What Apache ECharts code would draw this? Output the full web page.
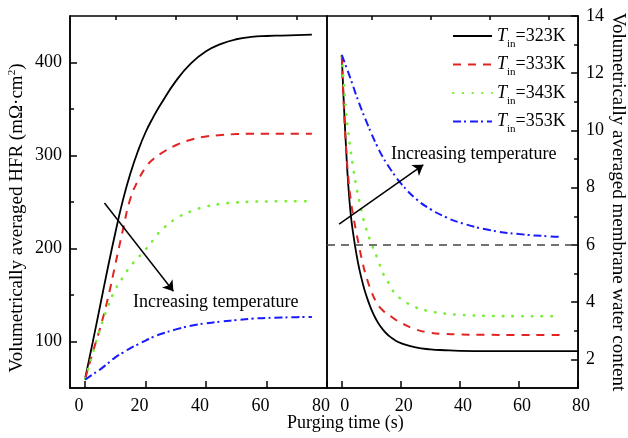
<!DOCTYPE html>
<html>
<head>
<meta charset="utf-8">
<script src="https://cdn.jsdelivr.net/npm/echarts@6/dist/echarts.min.js"></script>
<style>
  html, body { margin: 0; padding: 0; background: #fff; }
  #main { width: 628px; height: 438px; }
</style>
</head>
<body>
<div id="main"></div>
<script>
// inlet temperatures (K)
var temps = [323, 333, 343, 353];

// left panel: volumetrically averaged HFR (mOhm cm2) vs purging time (s)
var tLeft   = [0, 2.5, 5, 7.5, 10, 12.5, 15, 17.5, 20, 22.5, 25, 30, 35, 40, 45, 50, 55, 60, 65, 70, 75];
var hfr323  = [60, 99, 139, 179, 217, 252, 281, 305, 325, 341, 355, 380, 399, 412, 420, 425, 427.5, 428.5, 429, 429.5, 430];
var hfr333  = [60, 88, 115, 146, 183, 220, 254, 273, 287, 296, 302, 311, 317, 320.5, 322, 323, 323.5, 323.5, 323.5, 323.5, 323.5];
var hfr343  = [60, 87, 114, 137, 156, 169, 181, 190, 199, 209, 219, 232, 240, 245, 248, 249.5, 250.3, 250.6, 250.8, 250.8, 250.8];
var hfr353  = [59, 64.5, 70, 76.5, 83, 88, 93, 97, 101, 105, 108, 113, 117, 119.5, 121.5, 123, 124.5, 125.3, 125.8, 126.2, 126.3];

// right panel: volumetrically averaged membrane water content vs purging time (s)
var tRight  = [0, 0.5, 1, 1.5, 2, 3, 4, 5, 6, 7, 8, 10, 12, 14, 16, 18, 20, 25, 30, 35, 40, 50, 60, 70, 74];
var wat323  = [12.64, 11.4, 10.3, 9.3, 8.4, 7.1, 6.3, 5.65, 5.13, 4.7, 4.33, 3.75, 3.33, 3.03, 2.82, 2.67, 2.57, 2.42, 2.35, 2.32, 2.3, 2.29, 2.29, 2.29, 2.29];
var wat333  = [12.6, 11.3, 10.2, 9.35, 8.6, 7.6, 6.95, 6.4, 5.88, 5.4, 5.0, 4.38, 3.95, 3.7, 3.55, 3.4, 3.28, 3.05, 2.93, 2.89, 2.87, 2.86, 2.85, 2.85, 2.85];
var wat343  = [12.6, 11.9, 11.2, 10.6, 10.1, 9.3, 8.6, 8.0, 7.5, 7.05, 6.65, 6.05, 5.55, 5.0, 4.65, 4.3, 4.12, 3.82, 3.68, 3.6, 3.56, 3.52, 3.51, 3.51, 3.51];
var wat353  = [12.64, 12.5, 12.36, 12.22, 12.08, 11.8, 11.5, 11.2, 10.92, 10.65, 10.4, 9.9, 9.45, 9.05, 8.72, 8.42, 8.15, 7.62, 7.25, 6.98, 6.78, 6.52, 6.38, 6.3, 6.28];
// the 323K curve runs on to the right frame
var tRight323Tail = [80];
var wat323Tail = [2.29];

// reference water content level
var refWater = 6;

// tick values
var xMajor = [0, 20, 40, 60, 80];
var xMinor = [10, 30, 50, 70];
var hfrMajor = [100, 200, 300, 400];
var hfrMinor = [150, 250, 350];
var watMajor = [2, 4, 6, 8, 10, 12, 14];
var watMinor = [3, 5, 7, 9, 11, 13];

var FONT = '"Liberation Serif", "Times New Roman", serif';
var colors = ['#000000', '#e02424', '#77ee33', '#1a1aff'];
var lineTypes = ['solid', [8, 7], [0.5, 9.2], [8, 3, 2, 4]];
var lineWidths = [1.8, 2, 2.6, 2];

function pairs(xs, ys) {
  return xs.map(function (x, i) { return [x, ys[i]]; });
}

function xMain(grid, labelPad) {
  return {
    type: 'value', gridIndex: grid, min: -5, max: 80,
    axisLine: { show: true, onZero: false, lineStyle: { color: '#000', width: 1.5 } },
    axisTick: { show: true, inside: true, length: 7, customValues: xMajor, lineStyle: { color: '#000', width: 1.5 } },
    axisLabel: { customValues: xMajor, margin: 9, color: '#000', fontFamily: FONT, fontSize: 18, padding: labelPad },
    splitLine: { show: false }
  };
}
function minorAxis(grid, vals, min, max, pos) {
  var a = {
    type: 'value', gridIndex: grid, min: min, max: max,
    axisLine: { show: false, onZero: false },
    axisTick: { show: true, inside: true, length: 4, customValues: vals, lineStyle: { color: '#000', width: 1.5 } },
    axisLabel: { show: false },
    splitLine: { show: false }
  };
  if (pos) a.position = pos;
  return a;
}

var xAxes = [
  xMain(0, [0, 12, 0, 0]),
  minorAxis(0, xMinor, -5, 80),
  xMain(1, [0, 0, 0, 6]),
  minorAxis(1, xMinor, -5, 80)
];

var yAxes = [
  {
    type: 'value', gridIndex: 0, min: 50, max: 450, position: 'left',
    name: 'Volumetrically averaged HFR (mΩ·cm{sup|2})',
    nameLocation: 'middle', nameRotate: 90, nameGap: 42,
    nameTextStyle: {
      color: '#000', fontFamily: FONT, fontSize: 19, padding: [0, 32, 0, 0],
      rich: { sup: { fontFamily: FONT, fontSize: 11, color: '#000', padding: [0, 0, 10, 0] } }
    },
    axisLine: { show: true, onZero: false, lineStyle: { color: '#000', width: 1.5 } },
    axisTick: { show: true, inside: true, length: 7, customValues: hfrMajor, lineStyle: { color: '#000', width: 1.5 } },
    axisLabel: { customValues: hfrMajor, margin: 8, color: '#000', fontFamily: FONT, fontSize: 18 },
    splitLine: { show: false }
  },
  minorAxis(0, hfrMinor, 50, 450, 'left'),
  {
    type: 'value', gridIndex: 1, min: 1, max: 14, position: 'right',
    name: 'Volumetrically averaged membrane water content',
    nameLocation: 'middle', nameRotate: -90, nameGap: 16,
    nameTextStyle: { color: '#000', fontFamily: FONT, fontSize: 19 },
    axisLine: { show: true, onZero: false, lineStyle: { color: '#000', width: 1.5 } },
    axisTick: { show: true, inside: true, length: 7, customValues: watMajor, lineStyle: { color: '#000', width: 1.5 } },
    axisLabel: { customValues: watMajor, margin: 8, color: '#000', fontFamily: FONT, fontSize: 18 },
    splitLine: { show: false }
  },
  minorAxis(1, watMinor, 1, 14, 'right')
];

var leftVals = [hfr323, hfr333, hfr343, hfr353];
var rightVals = [wat323, wat333, wat343, wat353];

var series = [];
temps.forEach(function (T, i) {
  var name = 'T_in=' + T + 'K';
  var ls = { color: colors[i], width: lineWidths[i], type: lineTypes[i], cap: i === 2 ? 'round' : 'butt' };
  series.push({
    name: name, type: 'line', xAxisIndex: 0, yAxisIndex: 0,
    data: pairs(tLeft, leftVals[i]), showSymbol: false, symbol: 'none', smooth: true,
    color: colors[i], lineStyle: ls, silent: true
  });
  var tr = tRight, wr = rightVals[i];
  if (i === 0) { tr = tRight.concat(tRight323Tail); wr = wat323.concat(wat323Tail); }
  series.push({
    name: name, type: 'line', xAxisIndex: 2, yAxisIndex: 2,
    data: pairs(tr, wr), showSymbol: false, symbol: 'none', smooth: true,
    color: colors[i], lineStyle: ls, silent: true
  });
});

// arrows and reference line
var arrowStyle = { color: '#000', width: 1.5, type: 'solid' };
series[0].markLine = {
  silent: true, symbol: ['none', 'arrow'], symbolSize: 10, label: { show: false },
  lineStyle: arrowStyle, emphasis: { disabled: true },
  data: [[{ coord: [6.4, 249] }, { coord: [29.2, 154] }]]
};
series[1].markLine = {
  silent: true, symbol: ['none', 'arrow'], symbolSize: 10, label: { show: false },
  lineStyle: arrowStyle, emphasis: { disabled: true },
  data: [[{ coord: [-0.9, 6.73] }, { coord: [27.6, 8.8] }]]
};
series[7].markLine = {
  silent: true, symbol: ['none', 'none'], label: { show: false },
  lineStyle: { color: '#444', width: 1.5, type: [8, 6] }, emphasis: { disabled: true },
  data: [{ yAxis: refWater }]
};

var gridBase = { show: true, borderColor: '#000', borderWidth: 1.5, backgroundColor: 'transparent', top: 16, height: 372, width: 257 };

var option = {
  animation: false,
  backgroundColor: '#fff',
  grid: [
    Object.assign({ left: 70 }, gridBase),
    Object.assign({ left: 327 }, gridBase)
  ],
  xAxis: xAxes,
  yAxis: yAxes,
  legend: {
    orient: 'vertical', left: 447, top: 22, itemWidth: 39, itemHeight: 14, itemGap: 6,
    selectedMode: false,
    itemStyle: { opacity: 0, borderWidth: 0 },
    data: temps.map(function (T) { return 'T_in=' + T + 'K'; }),
    formatter: function (name) {
      return '{t|T}{s|in}{v|=' + name.split('=')[1] + '}';
    },
    textStyle: {
      color: '#000', fontFamily: FONT, fontSize: 18,
      rich: {
        t: { fontFamily: FONT, fontSize: 18, fontStyle: 'italic', color: '#000' },
        s: { fontFamily: FONT, fontSize: 11, color: '#000', padding: [16, 0, 0, 0] },
        v: { fontFamily: FONT, fontSize: 18, color: '#000' }
      }
    }
  },
  graphic: [
    { type: 'text', left: 287, top: 414, style: { text: 'Purging time (s)', font: '18px ' + FONT, fill: '#000' } },
    { type: 'text', left: 133, top: 293, style: { text: 'Increasing temperature', font: '18px ' + FONT, fill: '#000' } },
    { type: 'text', left: 391, top: 145, style: { text: 'Increasing temperature', font: '18px ' + FONT, fill: '#000' } }
  ],
  series: series
};

var myChart = echarts.init(document.getElementById('main'));
myChart.setOption(option);
</script>
</body>
</html>
